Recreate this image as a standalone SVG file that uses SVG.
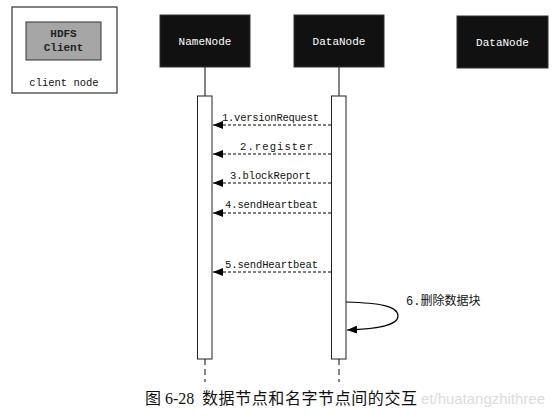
<svg xmlns="http://www.w3.org/2000/svg" width="554" height="419" viewBox="0 0 554 419">
<defs>
<marker id="ah" viewBox="0 0 10 8" refX="10" refY="4" markerWidth="10" markerHeight="8" markerUnits="userSpaceOnUse" orient="auto">
<path d="M0,0 L10,4 L0,8 Z" fill="#000"/>
</marker>
<style>
.node rect{fill:#111;stroke:#333;stroke-width:1}
.node text{fill:#fff;font-family:"Liberation Mono",monospace;font-size:11px;text-anchor:middle}
.msg{stroke:#000;stroke-width:1;stroke-dasharray:3,2;fill:none}
.lbl{font-family:"Liberation Mono",monospace;font-size:10.5px;fill:#111}
.life{stroke:#333;stroke-width:1.2}
.bar{fill:#fff;stroke:#222;stroke-width:1}
</style>
</defs>
<rect width="554" height="419" fill="#fff"/>

<g id="client">
<rect x="12" y="7" width="105" height="86" fill="#fff" stroke="#333" stroke-width="1.2"/>
<rect x="26" y="22" width="75" height="38" fill="#a6a6a6" stroke="#333" stroke-width="1"/>
<text x="63.5" y="37" font-family="Liberation Mono,monospace" font-size="11" font-weight="bold" text-anchor="middle" fill="#222">HDFS</text>
<text x="63.5" y="51" font-family="Liberation Mono,monospace" font-size="11" font-weight="bold" text-anchor="middle" fill="#222">Client</text>
<text x="64" y="86" font-family="Liberation Mono,monospace" font-size="10.5" text-anchor="middle" fill="#111">client node</text>
</g>

<g id="namenode" class="node">
<rect x="160" y="15" width="90" height="52"/>
<text x="205" y="45">NameNode</text>
</g>
<g id="datanode1" class="node">
<rect x="294" y="15" width="90" height="52"/>
<text x="339" y="45">DataNode</text>
</g>
<g id="datanode2" class="node">
<rect x="457" y="16" width="91" height="52"/>
<text x="502.5" y="46">DataNode</text>
</g>

<g id="lifelines">
<line class="life" x1="205" y1="67" x2="205" y2="96"/>
<line class="life" x1="339" y1="67" x2="339" y2="96"/>
<line class="life" x1="205" y1="359" x2="205" y2="382" stroke-dasharray="6,4"/>
<line class="life" x1="339" y1="359" x2="339" y2="382" stroke-dasharray="6,4"/>
<rect class="bar" x="197.5" y="96" width="14.5" height="263"/>
<rect class="bar" x="331.5" y="96" width="14.5" height="263"/>
</g>

<g id="connectors">
<line class="msg" x1="331" y1="125" x2="213" y2="125" marker-end="url(#ah)"/>
<line class="msg" x1="331" y1="154" x2="213" y2="154" marker-end="url(#ah)"/>
<line class="msg" x1="331" y1="183" x2="213" y2="183" marker-end="url(#ah)"/>
<line class="msg" x1="331" y1="213" x2="213" y2="213" marker-end="url(#ah)"/>
<line class="msg" x1="331" y1="272" x2="213" y2="272" marker-end="url(#ah)"/>
<path d="M346,302 C380,303 398,306 398,316 C398,326 375,329 347,330" fill="none" stroke="#000" stroke-width="1.2" marker-end="url(#ah)"/>
</g>

<g id="labels">
<text class="lbl" x="222" y="121" textLength="97">1.versionRequest</text>
<text class="lbl" x="240" y="150" textLength="73">2.register</text>
<text class="lbl" x="230" y="179" textLength="81">3.blockReport</text>
<text class="lbl" x="225" y="208" textLength="93">4.sendHeartbeat</text>
<text class="lbl" x="225" y="268" textLength="93">5.sendHeartbeat</text>
<text x="406" y="305" font-family="Liberation Mono,'Noto Sans CJK SC',monospace" font-size="12" fill="#111">6.删除数据块</text>
</g>

<text x="421" y="404" font-family="Liberation Sans,sans-serif" font-size="15" fill="#dcdcdc" textLength="124">et/huatangzhithree</text>
<text x="145" y="404" font-family="'Liberation Serif','Noto Sans CJK SC',serif" font-size="16" fill="#111">图 6-28</text>
<text x="202" y="404" font-family="'Noto Sans CJK SC',sans-serif" font-size="16" fill="#111" textLength="215">数据节点和名字节点间的交互</text>
</svg>
